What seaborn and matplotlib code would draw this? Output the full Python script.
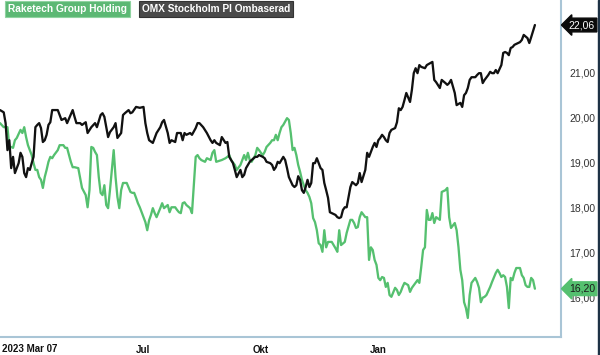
import numpy as np
import pandas as pd
import matplotlib
matplotlib.use("Agg")
import matplotlib.pyplot as plt
import matplotlib.transforms as mtransforms
from matplotlib.patches import Rectangle
import seaborn as sns

# -----------------------------------------------------
# DATA (x = trading day counted from 2023-03-07)
# -----------------------------------------------------
omx_day = [
    0, 2, 3, 4, 5, 6, 7, 8, 10, 11,
    12, 13, 14, 15, 16, 17, 18, 19, 20, 21,
    22, 23, 24, 25, 26, 27, 28, 31, 32, 33,
    35, 36, 39, 40, 41, 43, 44, 46, 47, 49,
    51, 52, 54, 55, 56, 58, 59, 61, 62, 63,
    65, 66, 67, 69, 70, 71, 73, 75, 77, 78,
    79, 80, 82, 84, 86, 87, 88, 90, 91, 92,
    94, 95, 97, 98, 99, 100, 102, 103, 105, 106,
    107, 109, 111, 113, 114, 115, 116, 118, 119, 121,
    122, 123, 125, 126, 127, 129, 130, 131, 132, 134,
    135, 137, 138, 139, 141, 142, 143, 145, 146, 147,
    148, 149, 150, 151, 152, 153, 154, 155, 157, 158,
    159, 160, 161, 162, 163, 164, 165, 166, 167, 168,
    169, 170, 172, 173, 174, 175, 176, 177, 178, 180,
    181, 182, 183, 184, 185, 186, 188, 189, 191, 192,
    193, 194, 196, 197, 198, 199, 200, 201, 202, 203,
    204, 205, 206, 207, 208, 209, 210, 212, 213, 214,
    215, 216, 217, 218, 220, 221, 222, 223, 224, 225,
    226, 228, 229, 232, 233, 234, 236, 237, 239, 240,
    241, 242, 244, 245, 247, 248, 249, 250, 251, 252,
    253, 255, 256, 257, 258, 259, 260, 262, 263, 264,
    265, 266, 267, 269, 270, 271, 272, 273, 274, 275,
    276, 278, 279, 280, 281, 283, 284, 285, 287,
]
omx_value = [
    20.17, 20.12, 19.88, 19.28, 19.50, 18.88, 19.13, 18.77, 18.99, 19.22,
    19.13, 18.77, 18.68, 18.88, 18.84, 18.99, 19.13, 19.79, 19.84, 19.88,
    19.77, 19.46, 19.50, 19.62, 19.84, 19.90, 20.17, 20.17, 20.06, 19.95,
    19.99, 19.88, 20.17, 20.02, 19.88, 19.88, 19.84, 19.90, 19.66, 19.79,
    19.88, 19.79, 20.06, 20.10, 20.02, 19.57, 19.68, 19.79, 19.88, 19.55,
    19.66, 20.06, 20.10, 20.17, 20.10, 20.12, 20.24, 20.22, 20.24, 19.88,
    19.66, 19.50, 19.44, 19.66, 19.79, 19.90, 19.95, 19.66, 19.44, 19.50,
    19.46, 19.66, 19.66, 19.50, 19.66, 19.62, 19.66, 19.62, 19.77, 19.88,
    19.88, 19.79, 19.66, 19.50, 19.44, 19.50, 19.44, 19.39, 19.57, 19.44,
    19.46, 19.13, 18.99, 18.84, 18.68, 18.84, 18.68, 18.73, 18.88, 19.02,
    19.06, 19.13, 19.13, 19.17, 19.13, 19.10, 19.02, 18.99, 18.95, 18.84,
    18.90, 19.02, 18.99, 19.06, 19.13, 19.06, 18.88, 18.68, 18.50, 18.46,
    18.50, 18.70, 18.62, 18.39, 18.33, 18.46, 18.62, 18.46, 18.55, 18.99,
    18.99, 19.10, 18.88, 18.84, 18.55, 18.39, 18.22, 17.90, 17.88, 17.84,
    17.79, 17.77, 17.79, 17.95, 18.01, 18.01, 18.46, 18.57, 18.50, 18.55,
    18.77, 18.57, 18.84, 19.22, 19.13, 19.24, 19.35, 19.44, 19.35, 19.50,
    19.55, 19.62, 19.57, 19.50, 19.46, 19.66, 19.73, 19.77, 19.90, 20.21,
    20.17, 20.24, 20.39, 20.55, 20.35, 20.62, 20.99, 21.10, 20.99, 21.17,
    21.13, 21.10, 21.17, 21.24, 20.84, 20.79, 20.66, 20.84, 20.77, 20.73,
    20.77, 20.84, 20.55, 20.28, 20.33, 20.24, 20.50, 20.55, 20.66, 20.84,
    20.90, 20.90, 20.95, 20.99, 20.99, 20.77, 20.84, 20.95, 21.02, 20.99,
    20.99, 21.06, 20.99, 21.17, 21.44, 21.46, 21.44, 21.39, 21.55, 21.57,
    21.62, 21.66, 21.68, 21.73, 21.84, 21.77, 21.66, 21.79, 22.06,
]

rake_day = [
    0, 2, 4, 5, 6, 7, 8, 9, 11, 12,
    13, 14, 15, 16, 17, 18, 19, 20, 21, 22,
    23, 24, 25, 26, 27, 28, 29, 31, 32, 34,
    35, 36, 38, 39, 40, 42, 43, 44, 46, 47,
    48, 49, 50, 51, 52, 53, 54, 55, 56, 57,
    58, 59, 60, 61, 62, 63, 64, 65, 66, 68,
    70, 71, 72, 73, 74, 75, 76, 78, 79, 80,
    81, 82, 83, 84, 86, 87, 88, 90, 91, 92,
    94, 95, 96, 97, 98, 99, 100, 102, 103, 105,
    106, 107, 108, 110, 111, 113, 114, 115, 116, 119,
    121, 122, 123, 124, 126, 127, 129, 130, 131, 132,
    133, 134, 135, 137, 138, 139, 140, 141, 142, 143,
    145, 146, 147, 148, 149, 150, 151, 152, 154, 155,
    156, 157, 158, 159, 160, 161, 162, 163, 164, 165,
    166, 167, 168, 169, 170, 171, 172, 173, 174, 175,
    176, 178, 180, 181, 182, 183, 185, 186, 188, 189,
    190, 191, 192, 193, 194, 196, 197, 198, 199, 200,
    201, 202, 203, 204, 205, 206, 207, 208, 209, 210,
    212, 213, 214, 215, 216, 217, 219, 220, 221, 224,
    225, 226, 227, 228, 229, 230, 231, 232, 233, 234,
    236, 237, 239, 240, 241, 242, 244, 245, 246, 247,
    248, 249, 250, 251, 252, 253, 255, 256, 257, 258,
    259, 260, 261, 263, 264, 266, 267, 268, 269, 270,
    271, 272, 273, 274, 275, 276, 277, 279, 280, 281,
    282, 283, 284, 285, 286, 287,
]
rake_value = [
    19.88, 19.79, 19.79, 19.35, 19.35, 19.33, 19.50, 19.55, 19.73, 19.66,
    19.79, 19.57, 19.39, 19.28, 19.17, 18.99, 18.84, 18.84, 18.68, 18.62,
    18.44, 18.68, 18.84, 19.02, 19.13, 19.10, 19.17, 19.28, 19.39, 19.39,
    19.33, 19.33, 19.02, 18.90, 18.90, 18.88, 18.66, 18.44, 18.28, 18.01,
    18.39, 19.35, 19.33, 19.24, 19.17, 18.68, 18.33, 18.28, 18.50, 18.06,
    17.99, 18.39, 18.84, 19.28, 18.68, 18.24, 17.99, 18.39, 18.55, 18.55,
    18.35, 18.33, 18.33, 18.22, 18.10, 18.01, 17.90, 17.68, 17.50, 17.72,
    17.84, 17.99, 17.88, 17.79, 17.99, 18.10, 17.99, 18.06, 17.90, 18.01,
    18.01, 17.95, 17.90, 17.88, 18.10, 18.12, 18.06, 17.99, 17.88, 19.13,
    19.17, 19.10, 19.06, 19.02, 19.10, 19.06, 19.22, 19.28, 19.02, 19.06,
    19.10, 19.13, 19.17, 19.06, 18.95, 18.84, 18.95, 19.06, 19.17, 19.06,
    19.22, 19.06, 19.02, 19.17, 19.33, 19.28, 19.22, 19.17, 19.24, 19.35,
    19.44, 19.50, 19.50, 19.62, 19.50, 19.66, 19.79, 19.84, 19.99, 19.95,
    19.66, 19.28, 19.33, 19.17, 18.95, 18.80, 18.62, 18.50, 18.39, 18.33,
    18.24, 18.10, 17.77, 17.68, 17.50, 17.21, 17.17, 17.02, 17.50, 17.12,
    17.24, 17.24, 17.10, 17.02, 17.50, 17.17, 17.24, 17.44, 17.73, 17.73,
    17.66, 17.55, 17.57, 17.79, 17.90, 17.79, 17.79, 16.84, 17.12, 17.06,
    16.84, 16.73, 16.44, 16.39, 16.46, 16.44, 16.24, 16.33, 16.06, 16.02,
    16.22, 16.17, 16.06, 16.13, 16.24, 16.33, 16.28, 16.13, 16.22, 16.39,
    16.33, 16.68, 17.06, 17.12, 17.95, 17.73, 17.73, 17.88, 17.66, 17.79,
    17.73, 18.35, 18.39, 18.44, 17.79, 17.55, 17.66, 17.50, 17.12, 16.62,
    16.39, 15.90, 15.77, 15.55, 16.06, 16.33, 16.44, 16.35, 16.22, 15.90,
    16.00, 16.02, 16.06, 16.24, 16.35, 16.55, 16.62, 16.55, 16.46, 16.50,
    16.46, 16.24, 15.77, 16.44, 16.39, 16.55, 16.66, 16.66, 16.50, 16.44,
    16.28, 16.24, 16.24, 16.44, 16.39, 16.20,
]

SERIES = ["Raketech Group Holding", "OMX Stockholm PI Ombaserad"]
COLORS = {SERIES[0]: "#55c06f", SERIES[1]: "#111111"}

tick_days = [19, 77, 140, 203]
tick_labels = ["", "Jul", "Okt", "Jan"]
event_days = [47, 175]
# 22,00 sits under the last-value badge, so it is left out
y_ticks = [16, 17, 18, 19, 20, 21]

# -----------------------------------------------------
# PLOT
# -----------------------------------------------------
sns.set_theme(style="white")
plt.rcParams["font.family"] = ["Liberation Sans", "DejaVu Sans"]

df = pd.concat([
    pd.DataFrame({"day": rake_day, "value": rake_value, "series": SERIES[0]}),
    pd.DataFrame({"day": omx_day, "value": omx_value, "series": SERIES[1]}),
], ignore_index=True)

fig = plt.figure(figsize=(6.0, 3.55), dpi=100)
ax = fig.add_axes([0.0, 18 / 355, 561 / 600, 337 / 355])

sns.lineplot(data=df, x="day", y="value", hue="series", palette=COLORS,
             estimator=None, linewidth=1.65, legend=False, ax=ax)

ax.set_xlim(0, 301)
ax.set_ylim(15.127, 22.616)
ax.set_xlabel("")
ax.set_ylabel("")

for side in ["top", "left"]:
    ax.spines[side].set_visible(False)
for side in ["right", "bottom"]:
    ax.spines[side].set_color("#a9c5d6")
    ax.spines[side].set_linewidth(1.5)

ax.yaxis.tick_right()
ax.set_yticks(y_ticks)
ax.set_yticklabels([f"{v:.2f}".replace(".", ",") for v in y_ticks])
ax.tick_params(axis="y", length=0, pad=6, labelsize=7.5, labelcolor="#333333")

ax.set_xticks(tick_days)
ax.set_xticklabels(tick_labels, fontweight="bold")
ax.set_xticks(event_days, minor=True)
ax.tick_params(axis="x", which="major", length=4, width=1, color="#8fb3c8",
               pad=2, labelsize=7, labelcolor="#111111")
ax.tick_params(axis="x", which="minor", length=4, width=1, color="#e0474c")
ax.text(1, -0.036, "2023 Mar 07", transform=ax.get_xaxis_transform(),
        ha="left", va="center", fontsize=7, fontweight="bold", color="#111111")

# last value badges
badge_tr = mtransforms.blended_transform_factory(ax.transAxes, ax.transData)
ax.text(1.014, omx_value[-1], f"{omx_value[-1]:.2f}".replace(".", ","),
        transform=badge_tr, ha="left", va="center", fontsize=7.5, color="white",
        zorder=10, clip_on=False,
        bbox=dict(boxstyle="larrow,pad=0.18", fc="#0a0a0a", ec="#0a0a0a"))
ax.text(1.014, rake_value[-1], f"{rake_value[-1]:.2f}".replace(".", ","),
        transform=badge_tr, ha="left", va="center", fontsize=7.5, color="#1a1a1a",
        zorder=10, clip_on=False,
        bbox=dict(boxstyle="larrow,pad=0.18", fc=COLORS[SERIES[0]], ec=COLORS[SERIES[0]]))

# legend boxes
fig.text(8 / 600, 1 - 9 / 355, SERIES[0], ha="left", va="center", fontsize=7.3,
         fontweight="bold", color="white",
         bbox=dict(boxstyle="square,pad=0.25", fc="#5cb874", ec="#8fd3a0", lw=0.8))
fig.text(142 / 600, 1 - 9 / 355, SERIES[1], ha="left", va="center", fontsize=7.3,
         fontweight="bold", color="white",
         bbox=dict(boxstyle="square,pad=0.25", fc="#4a4a4a", ec="#333333", lw=0.8))

# dark strip at the right edge
fig.patches.append(Rectangle((598 / 600, 0), 2 / 600, 1, transform=fig.transFigure,
                             color="#1e3245", zorder=0))

fig.savefig("out.png", dpi=100)
